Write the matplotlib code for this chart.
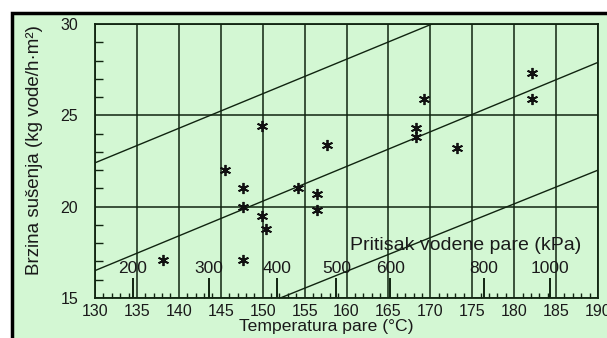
import matplotlib.pyplot as plt
from matplotlib.patches import Rectangle
from matplotlib.lines import Line2D
from matplotlib.ticker import MultipleLocator

# measured points (T in °C, drying rate)
temp = [138.1, 145.5, 147.7, 147.7, 147.7, 149.9, 149.9, 150.4, 154.2, 156.5,
        156.5, 157.7, 168.3, 168.3, 169.3, 173.2, 182.1, 182.1]
rate = [17.1, 22.0, 21.0, 20.0, 17.1, 24.4, 19.5, 18.8, 21.0, 20.7,
        19.8, 23.4, 24.3, 23.8, 25.9, 23.2, 27.3, 25.9]

# three parallel lines (end points)
upper_T = [130, 170.2]
upper_y = [22.4, 30.0]
middle_T = [130, 190]
middle_y = [16.5, 27.9]
lower_T = [152.1, 190]
lower_y = [15.0, 22.0]

# secondary pressure scale
p_labels = ["200", "300", "400", "500", "600", "800", "1000"]
p_temp = [134.5, 143.6, 151.7, 158.8, 165.2, 176.4, 184.3]

bg = "#d3f7d3"
ink = "#102410"
txt = "#1a1a1a"

plt.rcParams['font.family'] = ['Liberation Sans', 'DejaVu Sans']

fig = plt.figure(figsize=(6.07, 3.38), dpi=100)
fig.patch.set_facecolor("white")

# green panel with a black edge on top and left only
x0 = 11.5 / 607
y0 = 1 - 12.5 / 338
fig.add_artist(Rectangle((x0, 0), 1 - x0, y0, transform=fig.transFigure,
                         facecolor=bg, edgecolor="none", zorder=-10))
fig.add_artist(Line2D([x0, x0, 1], [0, y0, y0], transform=fig.transFigure,
                      color="black", lw=2.5, solid_joinstyle="miter", zorder=-9))

ax = fig.add_axes([95 / 607, 40 / 338, 503 / 607, 274 / 338])
ax.set_facecolor(bg)
ax.set_xlim(130, 190)
ax.set_ylim(15, 30)

ax.xaxis.set_major_locator(MultipleLocator(5))
ax.xaxis.set_minor_locator(MultipleLocator(1))
ax.yaxis.set_major_locator(MultipleLocator(5))
ax.yaxis.set_minor_locator(MultipleLocator(1))
ax.grid(True, which="major", color=ink, lw=1.1)
ax.tick_params(which="major", length=0, labelsize=11.5, colors=txt)
ax.tick_params(axis="x", which="major", pad=4)
ax.tick_params(axis="y", which="major", pad=12)
ax.tick_params(which="minor", direction="in", color=ink, width=1)
ax.tick_params(axis="x", which="minor", length=3.5)
ax.tick_params(axis="y", which="minor", length=6)
for s in ax.spines.values():
    s.set_color(ink)
    s.set_linewidth(1.3)

ax.plot(upper_T, upper_y, color=ink, lw=1)
ax.plot(middle_T, middle_y, color=ink, lw=1)
ax.plot(lower_T, lower_y, color=ink, lw=1)

ax.plot(temp, rate, linestyle="none", marker=(6, 2, 0), markersize=8,
        markeredgewidth=1.3, color="#111111")

# pressure scale
ax.vlines(p_temp, 15, 16.1, color=ink, lw=1.4)
for t, lab in zip(p_temp, p_labels):
    ax.text(t, 16.6, lab, ha="center", va="center", fontsize=12.5, color=txt)
ax.text(160.4, 17.85, "Pritisak vodene pare (kPa)", ha="left", va="center",
        fontsize=14, color=txt)

fig.text(326 / 607, 1 - 327 / 338, "Temperatura pare (°C)", ha="center", va="center",
         fontsize=12.6, color=txt)
fig.text(35 / 607, 1 - 150 / 338, "Brzina sušenja (kg vode/h·m²)", ha="center",
         va="center", rotation=90, fontsize=13.5, color=txt)

fig.savefig("out.png", dpi=100, facecolor=fig.get_facecolor())
